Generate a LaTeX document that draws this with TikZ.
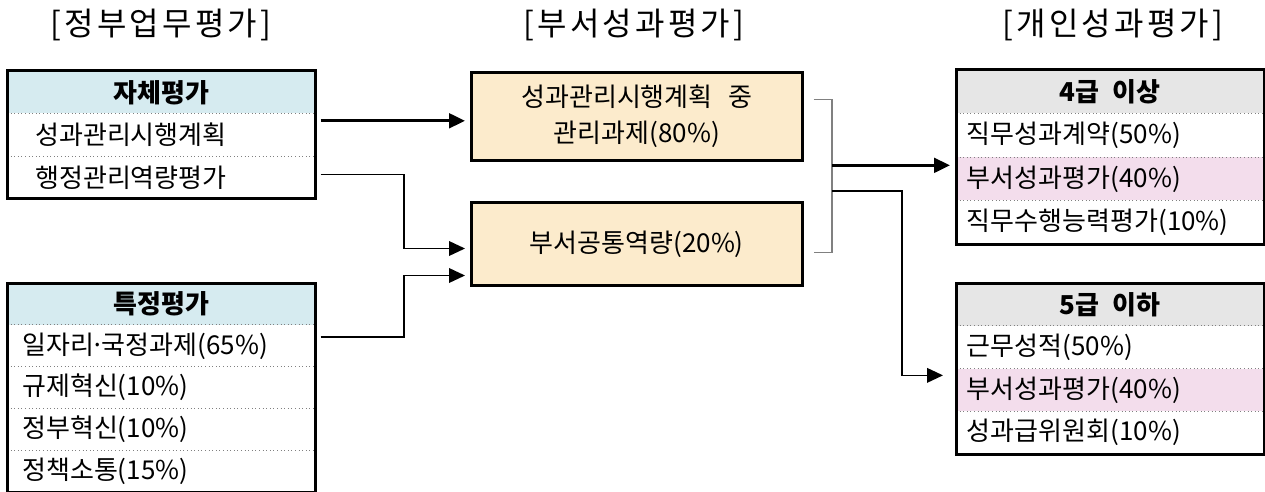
\documentclass[tikz,border=0pt]{standalone}
\usepackage{fontspec}
\setmainfont{Noto Sans CJK KR}
\newfontfamily\titlefont[LetterSpace=10]{Noto Sans CJK KR}
\usepackage{tikz}
\usetikzlibrary{arrows.meta,positioning,calc}
\definecolor{selfblue}{HTML}{D6EBF0}
\definecolor{headgray}{HTML}{E6E6E6}
\definecolor{taskbeige}{HTML}{FCEBCC}
\definecolor{deptpink}{HTML}{F3DDEC}

\begin{document}
\begin{tikzpicture}[x=0.75pt,y=-0.75pt,>={Triangle[length=12pt,width=11pt]},
  font=\fontsize{19.5}{23}\selectfont,
  hdr/.style 2 args={anchor=north west, fill=#1, minimum width=231pt, minimum height=#2, inner sep=0pt, font=\fontsize{19.5}{23}\selectfont\bfseries},
  itemrow/.style n args={3}{inner xsep=#1, text width=#2, minimum height=#3, inner ysep=0pt, align=left},
  boxframe/.style={line width=2.25pt},
  rowline/.style={dotted, gray, line width=0.7pt},
  task/.style={anchor=north west, draw, line width=2.25pt, fill=taskbeige, minimum width=248pt, inner sep=0pt, align=center, font=\fontsize{19.5}{27}\selectfont},
  ttl/.style={font=\fontsize{24}{28}\titlefont},
  thickarrow/.style={->, line width=2.25pt},
  link/.style={->, line width=1.2pt},
  bracket/.style={line width=1.2pt, gray}]
 \useasboundingbox (0,0) rectangle (1265,492);

 % titles
 \node[ttl] (tgov) at (161,25) {[정부업무평가]};
 \node[ttl] (tdept) at (634,25) {[부서성과평가]};
 \node[ttl] (tpers) at (1113,25) {[개인성과평가]};

 % 자체평가
 \node[hdr={selfblue}{31.5pt}] (ah) at (7,71) {자체평가};
 \node[itemrow={21pt}{189pt}{31.5pt}, below=0pt of ah] (a1) {성과관리시행계획};
 \node[itemrow={21pt}{189pt}{31.5pt}, below=0pt of a1] (a2) {행정관리역량평가};
 \draw[rowline] (a1.north west) -- (a1.north east) (a2.north west) -- (a2.north east);
 \draw[boxframe] (ah.north west) rectangle (a2.south east);

 % 특정평가
 \node[hdr={selfblue}{31pt}] (th) at (7,283) {특정평가};
 \node[itemrow={11.25pt}{208.5pt}{31pt}, below=0pt of th] (t1) {일자리\makebox[0.3em]{·}국정과제(65\%)};
 \node[itemrow={11.25pt}{208.5pt}{31pt}, below=0pt of t1] (t2) {규제혁신(10\%)};
 \node[itemrow={11.25pt}{208.5pt}{31pt}, below=0pt of t2] (t3) {정부혁신(10\%)};
 \node[itemrow={11.25pt}{208.5pt}{31pt}, below=0pt of t3] (t4) {정책소통(15\%)};
 \foreach \r in {t1,t2,t3,t4}
  \draw[rowline] (\r.north west) -- (\r.north east);
 \draw[boxframe] (th.north west) rectangle (t4.south east);

 % 부서성과평가
 \node[task, minimum height=66pt] (m1) at (470,71) {성과관리시행계획\hspace{0.6em}중\\관리과제(80\%)};
 \node[task, minimum height=62.25pt] (m2) at (470,201) {부서공통역량(20\%)};

 % 4급 이상
 \node[hdr={headgray}{32.25pt}] (ph) at (956,70) {4급\hspace{0.5em}이상};
 \node[itemrow={8pt}{215pt}{32.25pt}, below=0pt of ph] (p1) {직무성과계약(50\%)};
 \node[itemrow={8pt}{215pt}{32.25pt}, below=0pt of p1, fill=deptpink] (p2) {부서성과평가(40\%)};
 \node[itemrow={8pt}{215pt}{32.25pt}, below=0pt of p2] (p3) {직무수행능력평가(10\%)};
 \foreach \r in {p1,p2,p3}
  \draw[rowline] (\r.north west) -- (\r.north east);
 \draw[boxframe] (ph.north west) rectangle (p3.south east);

 % 5급 이하
 \node[hdr={headgray}{31.69pt}] (qh) at (956,283) {5급\hspace{0.5em}이하};
 \node[itemrow={8pt}{215pt}{31.69pt}, below=0pt of qh] (q1) {근무성적(50\%)};
 \node[itemrow={8pt}{215pt}{31.69pt}, below=0pt of q1, fill=deptpink] (q2) {부서성과평가(40\%)};
 \node[itemrow={8pt}{215pt}{31.69pt}, below=0pt of q2] (q3) {성과급위원회(10\%)};
 \foreach \r in {q1,q2,q3}
  \draw[rowline] (\r.north west) -- (\r.north east);
 \draw[boxframe] (qh.north west) rectangle (q3.south east);

 % connectors
 \coordinate (ja) at (404,0);
 \coordinate (jb) at (832,0);
 \coordinate (jc) at (902,0);
 \coordinate (a1out) at ($(a1.east)+(5,-14)$);
 \coordinate (a2out) at ($(a2.east)+(5,-3)$);
 \coordinate (t1out) at ($(t1.east)+(5,-9)$);
 \coordinate (m2in1) at ($(m2.west)+(-5,4.5)$);
 \coordinate (m2in2) at ($(m2.west)+(-5,31.5)$);
 \coordinate (btop) at ($(m1.east)+(10,-17)$);
 \coordinate (bbot) at ($(m2.east)+(10,8.5)$);
 \coordinate (jd) at (832,191);
 \coordinate (pin) at ($(p2.west)+(-6,-13.5)$);
 \coordinate (qin) at ($(q2.west)+(-13,-14.6)$);

 \draw[thickarrow] (a1out) -- ($(m1.west |- a1out)+(-5,0)$);
 \draw[link] (a2out) -- (a2out -| ja) |- (m2in1);
 \draw[link] (t1out) -- (t1out -| ja) |- (m2in2);
 \draw[bracket] (btop) -- (btop -| jb) -- (bbot -| jb) -- (bbot);
 \draw[thickarrow] (jb |- pin) -- (pin);
 \draw[link] (jd) -- (jd -| jc) |- (qin);
\end{tikzpicture}
\end{document}
